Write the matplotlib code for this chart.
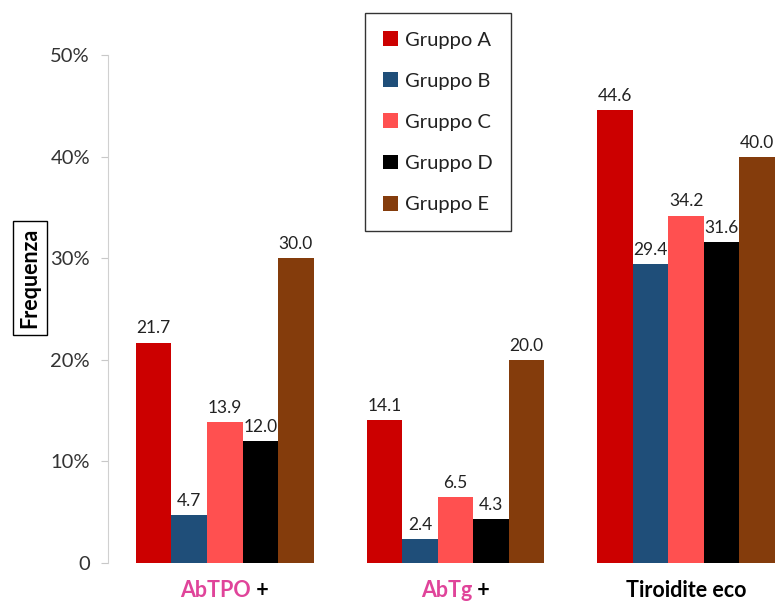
import numpy as np
import matplotlib.pyplot as plt

plt.rcParams['font.family'] = ['Lato', 'DejaVu Sans']

categories = ["AbTPO", "AbTg", "Tiroidite eco"]
cat_suffix = [" +", " +", ""]
groups = ["Gruppo A", "Gruppo B", "Gruppo C", "Gruppo D", "Gruppo E"]
values = {
    "Gruppo A": [21.7, 14.1, 44.6],
    "Gruppo B": [4.7, 2.4, 29.4],
    "Gruppo C": [13.9, 6.5, 34.2],
    "Gruppo D": [12.0, 4.3, 31.6],
    "Gruppo E": [30.0, 20.0, 40.0],
}
colors = ["#cc0000", "#1f4e79", "#ff5050", "#000000", "#843c0c"]
yticks = [0, 10, 20, 30, 40, 50]
ytick_labels = ["0", "10%", "20%", "30%", "40%", "50%"]

fig = plt.figure(figsize=(7.75, 6.05), dpi=100)
ax = fig.add_axes([108 / 775, 1 - 563 / 605, 1 - 108 / 775, (563 - 55) / 605])

x = np.arange(len(categories))
w = 0.154
for i, g in enumerate(groups):
    pos = x + (i - 2) * w
    bars = ax.bar(pos, values[g], width=w, color=colors[i], label=g)
    for b, v in zip(bars, values[g]):
        ax.text(b.get_x() + b.get_width() / 2, v + 0.6, f"{v:.1f}",
                ha="center", va="bottom", fontsize=12.5, color="#222222")

ax.set_xlim(-0.506, 2.385)
ax.set_ylim(0, 50)
ax.set_yticks(yticks)
ax.set_yticklabels(ytick_labels, fontsize=14.5, color="#333333")
ax.tick_params(axis="y", direction="out", length=5, color="#c8c8c8", pad=8)
ax.set_xticks([])
for s in ["top", "right", "bottom"]:
    ax.spines[s].set_visible(False)
ax.spines["left"].set_color("#d0d0d0")

# category labels, two colours
fig.canvas.draw()
r = fig.canvas.get_renderer()
inv = ax.transData.inverted()
for xi, c, suf in zip(x, categories, cat_suffix):
    col = "#e0449a" if suf else "black"
    t1 = ax.text(xi, -2.7, c, ha="left", va="center", fontsize=15.5,
                 fontweight="bold", color=col, clip_on=False)
    w1 = t1.get_window_extent(r).width
    w2 = 0
    t2 = None
    if suf:
        t2 = ax.text(xi, -2.7, suf, ha="left", va="center", fontsize=15.5,
                     fontweight="bold", color="black", clip_on=False)
        w2 = t2.get_window_extent(r).width
    px = ax.transData.transform((xi, 0))[0] - (w1 + w2) / 2
    t1.set_x(inv.transform((px, 0))[0])
    if t2 is not None:
        t2.set_x(inv.transform((px + w1, 0))[0])

fig.text(30 / 775, 1 - 278 / 605, "Frequenza", rotation=90, ha="center",
         va="center", fontsize=15.5, fontweight="bold",
         bbox=dict(facecolor="white", edgecolor="black", linewidth=1, pad=5))

leg = fig.legend(loc="upper left", bbox_to_anchor=(365 / 775, 1 - 13 / 605),
                 fontsize=14.5, frameon=True, fancybox=False, handlelength=0.75,
                 handleheight=0.75, labelspacing=1.18, borderpad=0.9,
                 handletextpad=0.35, borderaxespad=0)
leg.get_frame().set_edgecolor("black")
leg.get_frame().set_linewidth(1)
for t in leg.get_texts():
    t.set_color("#222222")

fig.savefig("out.png", dpi=100)
